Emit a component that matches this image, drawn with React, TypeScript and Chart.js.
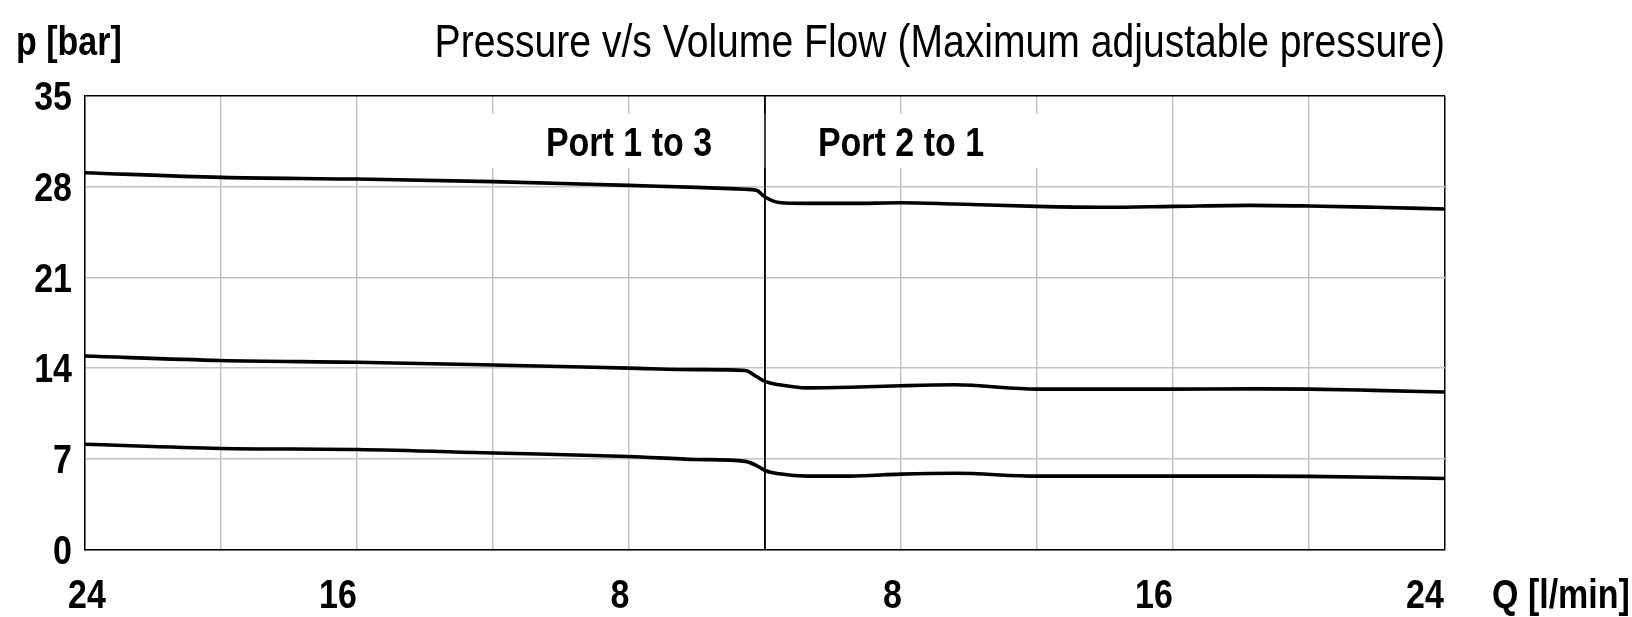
import React, { useEffect, useRef } from "react";
import { Chart, registerables } from "chart.js";

Chart.register(...registerables);

// Flow Q in l/min, signed: negative = "Port 1 to 3" side (left), positive = "Port 2 to 1" side (right)
const flowQ = [-24, -19.2, -14.4, -9.6, -4.8, -2.4, -0.7, -0.3, 0, 0.5, 1.5, 3.0, 4.8, 6.7, 9.6, 12, 14.4, 17.1, 19.2, 21.5, 24];

// Pressure p in bar for the three settings
const pressureHigh = [29.08, 28.72, 28.59, 28.39, 28.1, 27.95, 27.8, 27.72, 27.2, 26.78, 26.71, 26.71, 26.76, 26.66, 26.48, 26.41, 26.48, 26.56, 26.51, 26.41, 26.28];
const pressureMid = [14.93, 14.59, 14.45, 14.24, 14.0, 13.88, 13.82, 13.35, 12.97, 12.71, 12.47, 12.52, 12.64, 12.71, 12.38, 12.38, 12.38, 12.4, 12.38, 12.28, 12.15];
const pressureLow = [8.12, 7.8, 7.72, 7.45, 7.18, 6.95, 6.8, 6.48, 6.1, 5.84, 5.66, 5.66, 5.82, 5.89, 5.66, 5.66, 5.66, 5.66, 5.64, 5.58, 5.48];

// Axes
const yTicks = [0, 7, 14, 21, 28, 35];
const yTickLabels = ["0", "7", "14", "21", "28", "35"];
const xGrid = [-24, -19.2, -14.4, -9.6, -4.8, 0, 4.8, 9.6, 14.4, 19.2, 24];
const xTickPositions = [-23.93, -15.07, -5.12, 4.5, 13.73, 23.29];
const xTickLabels = ["24", "16", "8", "8", "16", "24"];

const titleText = "Pressure v/s Volume Flow (Maximum adjustable pressure)";
const yAxisTitle = "p [bar]";
const xAxisTitle = "Q [l/min]";

const portBoxes = [
  { label: "Port 1 to 3", from: -9.6, to: 0, top: 33.6, bottom: 29.45 },
  { label: "Port 2 to 1", from: 0, to: 9.6, top: 33.6, bottom: 29.45 },
];

const FONT = "'Liberation Sans', Arial, sans-serif";
const NARROW = 0.85;
const GRID = "#c4c4c4";

function narrowText(ctx: CanvasRenderingContext2D, text: string, x: number, y: number, align: CanvasTextAlign, font: string) {
  ctx.save();
  ctx.font = font;
  ctx.textAlign = align;
  ctx.textBaseline = "alphabetic";
  ctx.fillStyle = "#000";
  ctx.translate(x, y);
  ctx.scale(NARROW, 1);
  ctx.fillText(text, 0, 0);
  ctx.restore();
}

const overlayPlugin = {
  id: "overlay",
  beforeDatasetsDraw(chart: any) {
    const { ctx, chartArea } = chart;
    const x = chart.scales.x;
    const y = chart.scales.y;
    ctx.save();
    ctx.fillStyle = "#fff";
    portBoxes.forEach((b) => {
      const x1 = x.getPixelForValue(b.from);
      const x2 = x.getPixelForValue(b.to);
      const y1 = y.getPixelForValue(b.top);
      const y2 = y.getPixelForValue(b.bottom);
      ctx.fillRect(Math.min(x1, x2) - 1, y1, Math.abs(x2 - x1) + 2, y2 - y1);
    });
    const cx = x.getPixelForValue(0);
    ctx.strokeStyle = "#000";
    ctx.lineWidth = 1.5;
    ctx.beginPath();
    ctx.moveTo(cx, chartArea.top);
    ctx.lineTo(cx, chartArea.bottom);
    ctx.stroke();
    ctx.restore();
    portBoxes.forEach((b) => {
      const x1 = x.getPixelForValue(b.from);
      const x2 = x.getPixelForValue(b.to);
      const y1 = y.getPixelForValue(b.top);
      const y2 = y.getPixelForValue(b.bottom);
      narrowText(ctx, b.label, (x1 + x2) / 2, (y1 + y2) / 2 + 15, "center", `bold 40px ${FONT}`);
    });
  },
  afterDraw(chart: any) {
    const { ctx, chartArea } = chart;
    const x = chart.scales.x;
    const y = chart.scales.y;
    const tickFont = `bold 40px ${FONT}`;
    yTicks.forEach((v, i) => {
      narrowText(ctx, yTickLabels[i], chartArea.left - 13, y.getPixelForValue(v) + 14.3, "right", tickFont);
    });
    xTickPositions.forEach((v, i) => {
      narrowText(ctx, xTickLabels[i], x.getPixelForValue(v), chartArea.bottom + 58.5, "center", tickFont);
    });
    narrowText(ctx, titleText, chartArea.right, 57, "right", `46px ${FONT}`);
    narrowText(ctx, yAxisTitle, 16, 55, "left", tickFont);
    narrowText(ctx, xAxisTitle, chartArea.right + 47, chartArea.bottom + 58.5, "left", tickFont);
  },
};

export default function App() {
  const canvasRef = useRef<HTMLCanvasElement | null>(null);

  useEffect(() => {
    document.body.style.margin = "0";
    const canvas = canvasRef.current;
    if (!canvas) return;
    const mk = (data: number[]) => flowQ.map((q, i) => ({ x: q, y: data[i] }));
    const ds = (label: string, data: number[]) => ({
      label,
      data: mk(data),
      borderColor: "#000",
      borderWidth: 3.6,
      pointRadius: 0,
      cubicInterpolationMode: "monotone" as const,
      fill: false,
    });
    const chart = new Chart(canvas, {
      type: "line",
      data: {
        datasets: [ds("high", pressureHigh), ds("mid", pressureMid), ds("low", pressureLow)],
      },
      plugins: [overlayPlugin],
      options: {
        animation: false,
        responsive: true,
        maintainAspectRatio: false,
        layout: { padding: { top: 96, right: 187, left: 0, bottom: 0 } },
        plugins: { legend: { display: false }, tooltip: { enabled: false }, title: { display: false } },
        scales: {
          x: {
            type: "linear",
            min: -24,
            max: 24,
            position: "bottom",
            afterBuildTicks: (s: any) => {
              s.ticks = xGrid.map((v) => ({ value: v }));
            },
            ticks: { display: false },
            grid: {
              drawTicks: false,
              lineWidth: 1.5,
              color: (c: any) => (c.tick && (c.tick.value === 0 || c.tick.value === 24) ? "#000" : GRID),
            },
            border: { display: true, color: "#000", width: 1.5 },
            afterFit: (s: any) => {
              s.height = 67.5;
            },
          },
          y: {
            type: "linear",
            min: 0,
            max: 35,
            afterBuildTicks: (s: any) => {
              s.ticks = yTicks.map((v) => ({ value: v }));
            },
            ticks: { display: false },
            grid: {
              drawTicks: false,
              lineWidth: 1.5,
              color: (c: any) => (c.tick && c.tick.value === 35 ? "#000" : GRID),
            },
            border: { display: true, color: "#000", width: 1.5 },
            afterFit: (s: any) => {
              s.width = 85;
            },
          },
        },
      } as any,
    });
    return () => chart.destroy();
  }, []);

  return (
    <div style={{ width: 1632, height: 617, position: "relative", background: "#fff" }}>
      <canvas ref={canvasRef} />
    </div>
  );
}
